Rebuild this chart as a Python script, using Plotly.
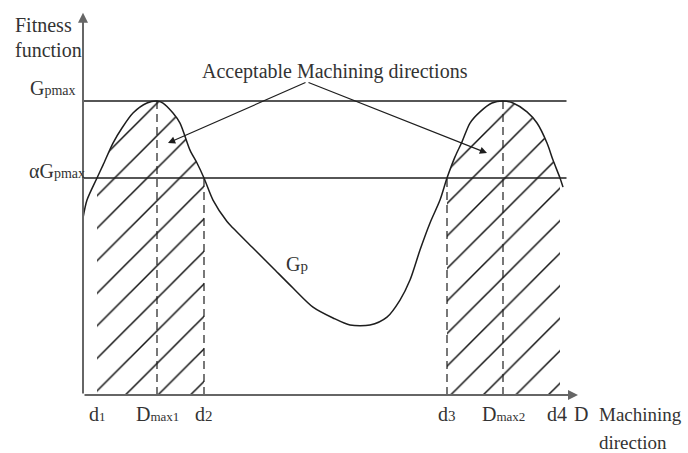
import plotly.graph_objects as go

# ---------------------------------------------------------------------------
# Data (read off the schematic; D in arbitrary units, G normalised to Gpmax)
# ---------------------------------------------------------------------------
curve_d = [0.0, 0.8, 2.8, 4.0, 6.0, 7.8, 10.0, 12.8, 14.8, 16.0, 18.0, 19.4,
           21.4, 22.8, 24.2, 26.0, 28.8, 30.0, 34.0, 38.0, 42.0, 46.0, 50.0,
           53.4, 57.4, 60.8, 63.4, 65.4, 67.4, 69.4, 71.4, 72.8, 74.4, 75.8,
           77.4, 79.4, 81.8, 84.0, 86.0, 88.8, 90.8, 92.8, 94.0, 95.4, 96.0]
curve_g = [0.602, 0.663, 0.738, 0.782, 0.857, 0.908, 0.959, 0.993, 1.0, 0.993,
           0.959, 0.925, 0.833, 0.789, 0.738, 0.663, 0.590, 0.568, 0.500,
           0.432, 0.364, 0.299, 0.262, 0.238, 0.238, 0.265, 0.323, 0.391,
           0.493, 0.585, 0.663, 0.738, 0.810, 0.861, 0.925, 0.963, 0.993, 1.0,
           0.993, 0.963, 0.925, 0.857, 0.799, 0.738, 0.707]

G_MAX = 1.0
ALPHA = 0.738
LINE_END = 96.7
AXIS_X_END = 99.0
AXIS_Y_END = 1.30

d_points = {"d1": 2.8, "Dmax1": 14.8, "d2": 24.2, "d3": 72.8, "Dmax2": 84.0, "d4": 95.4}
hatch_ranges = [("d1", "d2"), ("d3", "d4")]
dashed = [("Dmax1", G_MAX), ("d2", ALPHA), ("d3", ALPHA), ("Dmax2", G_MAX)]

FONT = "Liberation Serif, Times New Roman, serif"
INK = "#1e1e1e"
TXT = "#333"


def small(txt, size=13):
    return f"<span style='font-size:{size}px'>{txt}</span>"


fig = go.Figure()

# ── hatched acceptable regions ────────────────────────────────────────────
for lo, hi in hatch_ranges:
    a, b = d_points[lo], d_points[hi]
    xs = [a] + [x for x in curve_d if a <= x <= b] + [b, a]
    ys = [0] + [g for x, g in zip(curve_d, curve_g) if a <= x <= b] + [0, 0]
    fig.add_trace(go.Scatter(
        x=xs, y=ys, mode="lines", fill="toself",
        line=dict(width=0), fillcolor="white",
        fillpattern=dict(shape="/", size=23, solidity=0.065, fgopacity=1,
                         fgcolor="#111", bgcolor="white"),
        hoverinfo="skip", showlegend=False))

# ── Gpmax and alpha*Gpmax levels ──────────────────────────────────────────
for lvl in (G_MAX, ALPHA):
    fig.add_trace(go.Scatter(x=[0, LINE_END], y=[lvl, lvl], mode="lines",
                             line=dict(color=INK, width=1.3), showlegend=False))

# ── dashed verticals ──────────────────────────────────────────────────────
for name, top in dashed:
    fig.add_trace(go.Scatter(x=[d_points[name]] * 2, y=[0, top], mode="lines",
                             line=dict(color=INK, width=1.2, dash="8px,5px"),
                             showlegend=False))

# ── fitness curve Gp ──────────────────────────────────────────────────────
fig.add_trace(go.Scatter(x=curve_d, y=curve_g, mode="lines",
                         line=dict(color=INK, width=1.5, shape="spline", smoothing=0.8),
                         showlegend=False))

ann = []
# axes as arrows
ann.append(dict(x=AXIS_X_END, y=0, ax=0, ay=0, xref="x", yref="y", axref="x", ayref="y",
                showarrow=True, arrowhead=2, arrowsize=1, arrowwidth=2, arrowcolor="#666", text=""))
ann.append(dict(x=0, y=AXIS_Y_END, ax=0, ay=0, xref="x", yref="y", axref="x", ayref="y",
                showarrow=True, arrowhead=2, arrowsize=1, arrowwidth=2, arrowcolor="#666", text=""))

# pointer arrows from the caption
apex = (44.8, 1.065)
for tip in [(17.0, 0.857), (80.8, 0.823)]:
    ann.append(dict(x=tip[0], y=tip[1], ax=apex[0], ay=apex[1], xref="x", yref="y",
                    axref="x", ayref="y", showarrow=True, arrowhead=2, arrowsize=1.2,
                    arrowwidth=1.2, arrowcolor=INK, text=""))


def label(x, y, text, xanchor="center", size=20, xshift=0):
    ann.append(dict(x=x, y=y, xref="x", yref="y", text=text, showarrow=False,
                    xanchor=xanchor, yanchor="middle", align="left", xshift=xshift,
                    font=dict(family=FONT, size=size, color=TXT)))


label(-14, 1.259, "Fitness", "left")
label(-14, 1.173, "function", "left")
label(-1, 1.044, "G" + small("pmax", 14), "right")
label(0.8, 0.762, "αG" + small("pmax", 14), "right")
label(23.4, 1.099, "Acceptable Machining directions", "left")
label(42.8, 0.446, "G" + small("p", 15))

sub_lbl = {"d1": "d" + small("1", 13), "Dmax1": "D" + small("max1", 13),
           "d2": "d" + small("2", 15), "d3": "d" + small("3", 15),
           "Dmax2": "D" + small("max2", 13), "d4": "d4"}
for k, v in sub_lbl.items():
    label(d_points[k], -0.065, v, xshift=-3 if k == "d4" else 0)
label(99.6, -0.065, "D")
label(102.8, -0.065, "Machining", "left", size=19)
label(102.8, -0.160, "direction", "left", size=19)

# full-figure data window: 1 unit D = 5 px, 1 unit G = 294 px
fig.update_layout(
    width=688, height=453,
    margin=dict(l=0, r=0, t=0, b=0),
    paper_bgcolor="white", plot_bgcolor="white",
    xaxis=dict(range=[-16.6, 121.0], visible=False),
    yaxis=dict(range=[-0.1973, 1.3435], visible=False),
    annotations=ann,
)

fig.write_html("out.html", config={"displayModeBar": False},
               post_script="document.body.style.margin='0';")
